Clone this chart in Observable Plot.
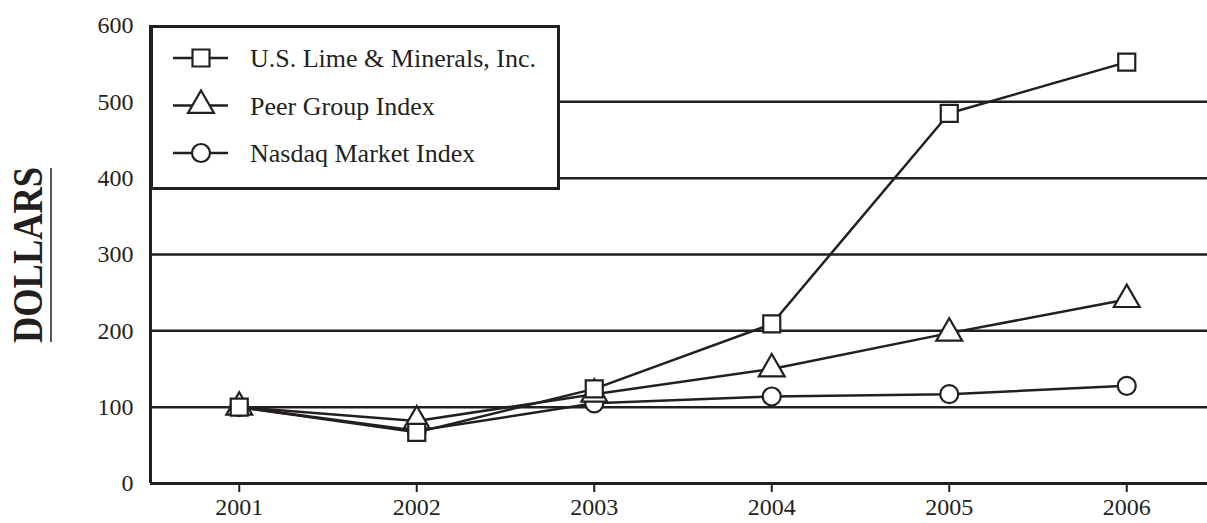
<!DOCTYPE html>
<html>
<head>
<meta charset="utf-8">
<script src="https://cdn.jsdelivr.net/npm/d3@7"></script>
<script src="https://cdn.jsdelivr.net/npm/@observablehq/plot@0.6"></script>
<style>
  html, body { margin: 0; padding: 0; background: #fff; }
  #wrap { position: relative; width: 1207px; height: 523px; }
  #overlay { position: absolute; left: 0; top: 0; pointer-events: none; }
</style>
</head>
<body>
<div id="wrap"></div>
<script>
const years = [2001, 2002, 2003, 2004, 2005, 2006];
const usLime = [100, 67, 124, 209, 485, 552];
const peerGroup = [100, 82, 117, 150, 197, 241];
const nasdaq = [100, 69, 105, 114, 117, 128];
const seriesNames = ["U.S. Lime & Minerals, Inc.", "Peer Group Index", "Nasdaq Market Index"];
const seriesSymbols = ["square", "triangle", "circle"];
const yTicks = [0, 100, 200, 300, 400, 500, 600];
const gridValues = [100, 200, 300, 400, 500];
const yLabel = "DOLLARS";

const ink = "#231f20";
const font = "'Liberation Serif', 'Times New Roman', serif";

const rows = (name, vals) => years.map((yr, i) => ({series: name, year: yr, value: vals[i]}));
const dataLime = rows(seriesNames[0], usLime);
const dataPeer = rows(seriesNames[1], peerGroup);
const dataNasdaq = rows(seriesNames[2], nasdaq);
const symR = {square: 9.6, triangle: 9.6, circle: 9};

const chart = Plot.plot({
  width: 1207,
  height: 523,
  marginLeft: 150,
  marginRight: 0,
  marginTop: 25,
  marginBottom: 40,
  x: {domain: [2000.5, 2006.5], range: [150, 1215]},
  y: {domain: [0, 600], range: [483, 25]},
  style: {fontFamily: font, background: "white", color: ink, fontSize: "24px"},
  marks: [
    Plot.ruleY(gridValues, {stroke: ink, strokeWidth: 2.5}),
    Plot.ruleY([0], {stroke: ink, strokeWidth: 3}),
    Plot.ruleX([2000.5], {y1: 0, y2: 600, stroke: ink, strokeWidth: 3}),
    Plot.axisX({ticks: years, tickSize: 9, tickPadding: 5, tickFormat: d => String(d), label: null, fontSize: 24, stroke: ink, strokeWidth: 2, fill: ink}),
    Plot.axisY({ticks: yTicks, tickSize: 0, tickPadding: 17, tickFormat: d => String(d), label: null, fontSize: 24, fill: ink}),
    Plot.line(dataNasdaq, {x: "year", y: "value", stroke: ink, strokeWidth: 2.5}),
    Plot.line(dataPeer, {x: "year", y: "value", stroke: ink, strokeWidth: 2.5}),
    Plot.line(dataLime, {x: "year", y: "value", stroke: ink, strokeWidth: 2.5}),
    Plot.dot(dataNasdaq, {x: "year", y: "value", symbol: "circle", r: symR.circle, fill: "white", stroke: ink, strokeWidth: 2.2}),
    Plot.dot(dataPeer, {x: "year", y: "value", symbol: "triangle", r: symR.triangle, fill: "white", stroke: ink, strokeWidth: 2.2}),
    Plot.dot(dataLime, {x: "year", y: "value", symbol: "square", r: symR.square, fill: "white", stroke: ink, strokeWidth: 2.2})
  ]
});
document.getElementById("wrap").appendChild(chart);

// overlay: legend box and rotated axis label
const ov = d3.select("#wrap").append("svg")
  .attr("id", "overlay").attr("width", 1207).attr("height", 523)
  .style("font-family", font);

const lg = ov.append("g");
lg.append("rect").attr("x", 151.5).attr("y", 26.5).attr("width", 407).attr("height", 162)
  .attr("fill", "white").attr("stroke", ink).attr("stroke-width", 3);
const symMap = {square: d3.symbolSquare, triangle: d3.symbolTriangle, circle: d3.symbolCircle};
const rowY = [58, 105.5, 153];
seriesNames.forEach((name, i) => {
  const g = lg.append("g").attr("transform", `translate(0,${rowY[i]})`);
  g.append("line").attr("x1", 173).attr("x2", 228).attr("y1", 0).attr("y2", 0)
    .attr("stroke", ink).attr("stroke-width", 2.5);
  const s = seriesSymbols[i];
  g.append("path").attr("d", d3.symbol(symMap[s], Math.PI * symR[s] * symR[s])())
    .attr("transform", "translate(201,0)")
    .attr("fill", "white").attr("stroke", ink).attr("stroke-width", 2.2);
  g.append("text").attr("x", 250).attr("y", 0).attr("dy", "0.35em")
    .attr("font-size", 26).attr("fill", ink).text(name);
});

ov.append("text")
  .attr("transform", "translate(42,255) rotate(-90)")
  .attr("text-anchor", "middle")
  .attr("font-size", 42).attr("font-weight", "bold").attr("fill", ink)
  .attr("textLength", 176).attr("lengthAdjust", "spacingAndGlyphs")
  .text(yLabel);
ov.append("line").attr("x1", 51).attr("x2", 51).attr("y1", 168).attr("y2", 342)
  .attr("stroke", ink).attr("stroke-width", 1.5);
</script>
</body>
</html>
